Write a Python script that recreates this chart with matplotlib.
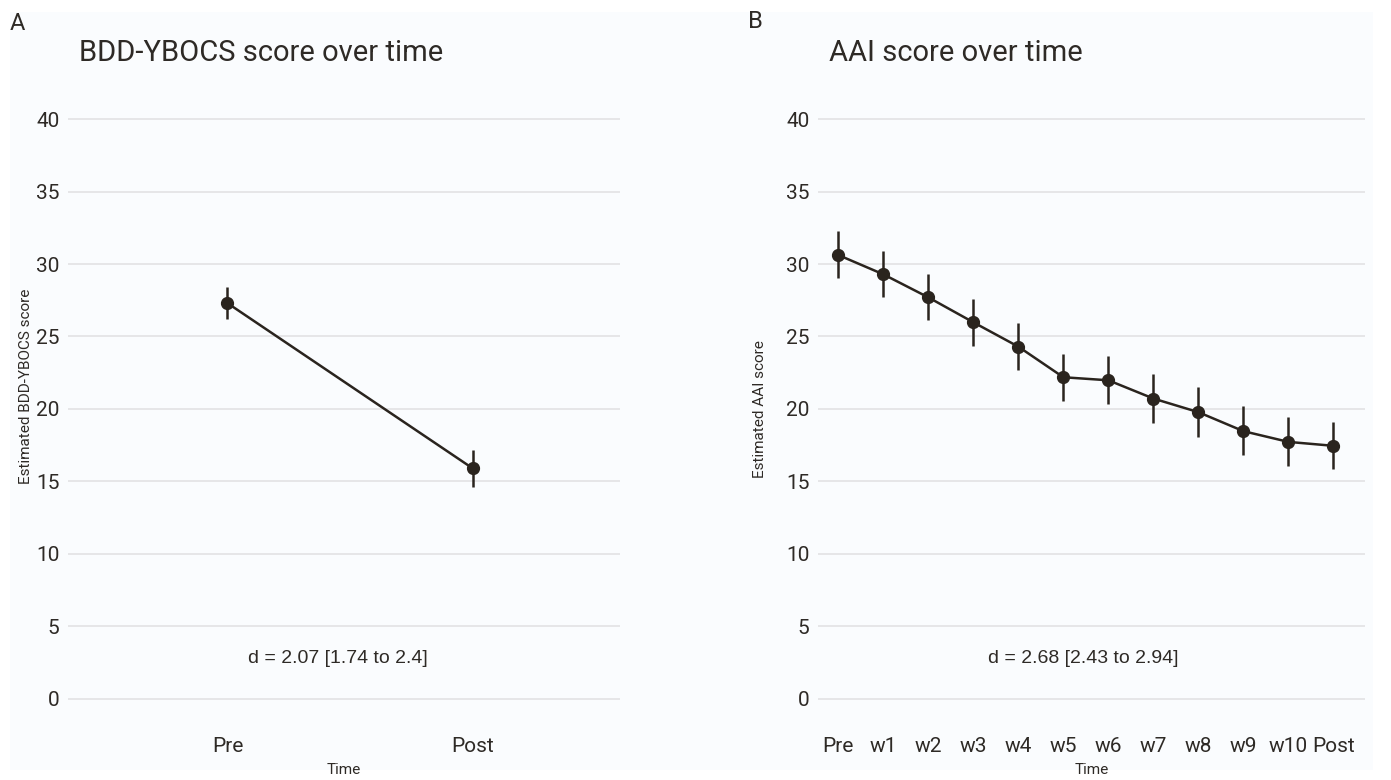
import numpy as np
import matplotlib.pyplot as plt
from matplotlib.patches import Rectangle

plt.rcParams['font.family'] = ['Roboto', 'DejaVu Sans']

# panel A data
ybocs_time = ['Pre', 'Post']
ybocs_mean = [27.3, 15.9]
ybocs_low = [26.2, 14.6]
ybocs_high = [28.4, 17.2]

# panel B data
aai_time = ['Pre', 'w1', 'w2', 'w3', 'w4', 'w5', 'w6', 'w7', 'w8', 'w9', 'w10', 'Post']
aai_mean = [30.62, 29.29, 27.70, 25.98, 24.30, 22.19, 21.98, 20.72, 19.78, 18.47, 17.73, 17.46]
aai_low = [29.04, 27.70, 26.12, 24.35, 22.69, 20.53, 20.33, 19.06, 18.10, 16.81, 16.06, 15.83]
aai_high = [32.25, 30.87, 29.29, 27.59, 25.93, 23.82, 23.64, 22.42, 21.50, 20.19, 19.43, 19.11]

ink = '#2a241e'
txt = '#2e2a26'
bg = '#fafcfe'

fig = plt.figure(figsize=(13.91, 7.80), dpi=100, facecolor='white')
fig.patches.append(Rectangle((10 / 1391, 10 / 780), 1363 / 1391, 758 / 780,
                             transform=fig.transFigure, facecolor=bg, edgecolor='none', zorder=-10))

ax1 = fig.add_axes([68 / 1391, 0.0853, 552 / 1391, 0.7807])
ax2 = fig.add_axes([818 / 1391, 0.0853, 547 / 1391, 0.7807])


def draw(ax, labels, mean, low, high, title, ylabel, dtext, xlim, dx, ylab_xy):
    x = np.arange(len(labels))
    mean = np.array(mean)
    yerr = [mean - np.array(low), np.array(high) - mean]
    ax.errorbar(x, mean, yerr=yerr, fmt='o-', color=ink, ms=8.5, lw=1.8,
                elinewidth=1.8, capsize=0, zorder=3)
    ax.set_xlim(*xlim)
    ax.set_ylim(-1, 41)
    ax.set_yticks(range(0, 41, 5))
    ax.set_xticks(x)
    ax.set_xticklabels(labels)
    ax.set_facecolor('none')
    for s in ax.spines.values():
        s.set_visible(False)
    ax.grid(axis='y', color='#e2e2e4', lw=1.2)
    ax.grid(axis='x', visible=False)
    ax.set_axisbelow(True)
    ax.tick_params(length=0, labelsize=15, labelcolor=txt, pad=6)
    ax.tick_params(axis='x', pad=17)
    ax.set_xlabel('Time', fontsize=11, color=txt, labelpad=5)
    ax.set_ylabel(ylabel, fontsize=11, color=txt)
    ax.yaxis.set_label_coords(*ylab_xy)
    ax.text((len(labels) - 1) / 2 + dx, 2.8, dtext, ha='center', va='center',
            fontsize=14, color=txt, family='Liberation Sans')
    ax.set_title(title, fontsize=21, color=txt, loc='left', x=0.02, pad=31)


draw(ax1, ybocs_time, ybocs_mean, ybocs_low, ybocs_high,
     'BDD-YBOCS score over time', 'Estimated BDD-YBOCS score',
     'd = 2.07 [1.74 to 2.4]', (-0.65, 1.6), -0.05, (-0.063, 0.538))
draw(ax2, aai_time, aai_mean, aai_low, aai_high,
     'AAI score over time', 'Estimated AAI score',
     'd = 2.68 [2.43 to 2.94]', (-0.45, 11.7), -0.05, (-0.093, 0.5))

fig.text(10 / 1391, 1 - 24 / 780, 'A', fontsize=17, color=txt, va='center')
fig.text(748 / 1391, 1 - 22 / 780, 'B', fontsize=17, color=txt, va='center')

plt.savefig('out.png', dpi=100, facecolor='white')
